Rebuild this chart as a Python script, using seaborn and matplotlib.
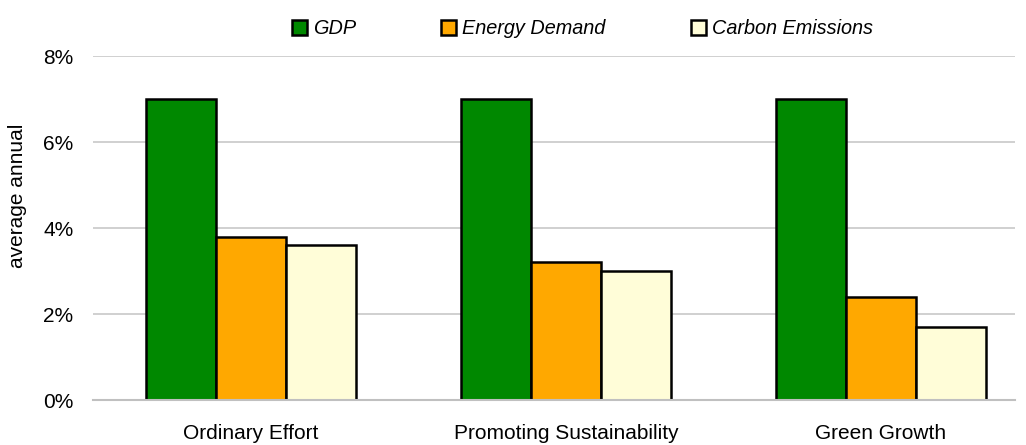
import pandas as pd
import seaborn as sb
import matplotlib.pyplot as plt
from matplotlib.ticker import PercentFormatter

# values (average annual growth, %)
scenarios = ['Ordinary Effort', 'Promoting Sustainability', 'Green Growth']
series = ['GDP', 'Energy Demand', 'Carbon Emissions']
gdp = [7.0, 7.0, 7.0]
energy = [3.8, 3.2, 2.4]
carbon = [3.6, 3.0, 1.7]
colors = ['#008800', '#FFA800', '#FFFDD8']

df = pd.DataFrame({
    'scenario': scenarios * 3,
    'series': [series[0]] * 3 + [series[1]] * 3 + [series[2]] * 3,
    'value': gdp + energy + carbon,
})

sb.set_style('white')
plt.rcParams['font.family'] = ['Liberation Sans', 'DejaVu Sans']
plt.rcParams['text.color'] = 'black'

fig = plt.figure(figsize=(10.26, 4.45), dpi=100)
ax = fig.add_axes([0.0906, 0.101, 0.8984, 0.773])

sb.barplot(data=df, x='scenario', y='value', hue='series', palette=colors, saturation=1,
           width=0.667, edgecolor='black', linewidth=1.8, ax=ax, legend=True)

ax.set_ylim(0, 8)
ax.set_xlim(-0.502, 2.425)
ax.set_yticks([0, 2, 4, 6, 8])
ax.yaxis.set_major_formatter(PercentFormatter(decimals=0))
ax.grid(axis='y', color='#c8c8c8', linewidth=1.2)
ax.set_axisbelow(True)
for s in ['top', 'right', 'left']:
    ax.spines[s].set_visible(False)
ax.spines['bottom'].set_color('#c0c0c0')
ax.spines['bottom'].set_linewidth(1.5)
ax.tick_params(axis='both', length=0, labelsize=15, labelcolor='black')
ax.tick_params(axis='y', pad=14)
ax.tick_params(axis='x', pad=17)
ax.set_xlabel('')
ax.set_ylabel('average annual', fontsize=15, color='black')
ax.yaxis.set_label_coords(-0.0716, 0.593)

handles, labels = ax.get_legend_handles_labels()
ax.legend(handles, labels, loc='lower center', bbox_to_anchor=(0.531, 1.0),
          ncol=3, frameon=False, prop={'style': 'italic', 'size': 14.3},
          handlelength=0.75, handleheight=0.75, handletextpad=0.3, columnspacing=4.3)

fig.savefig('out.png', dpi=100)
